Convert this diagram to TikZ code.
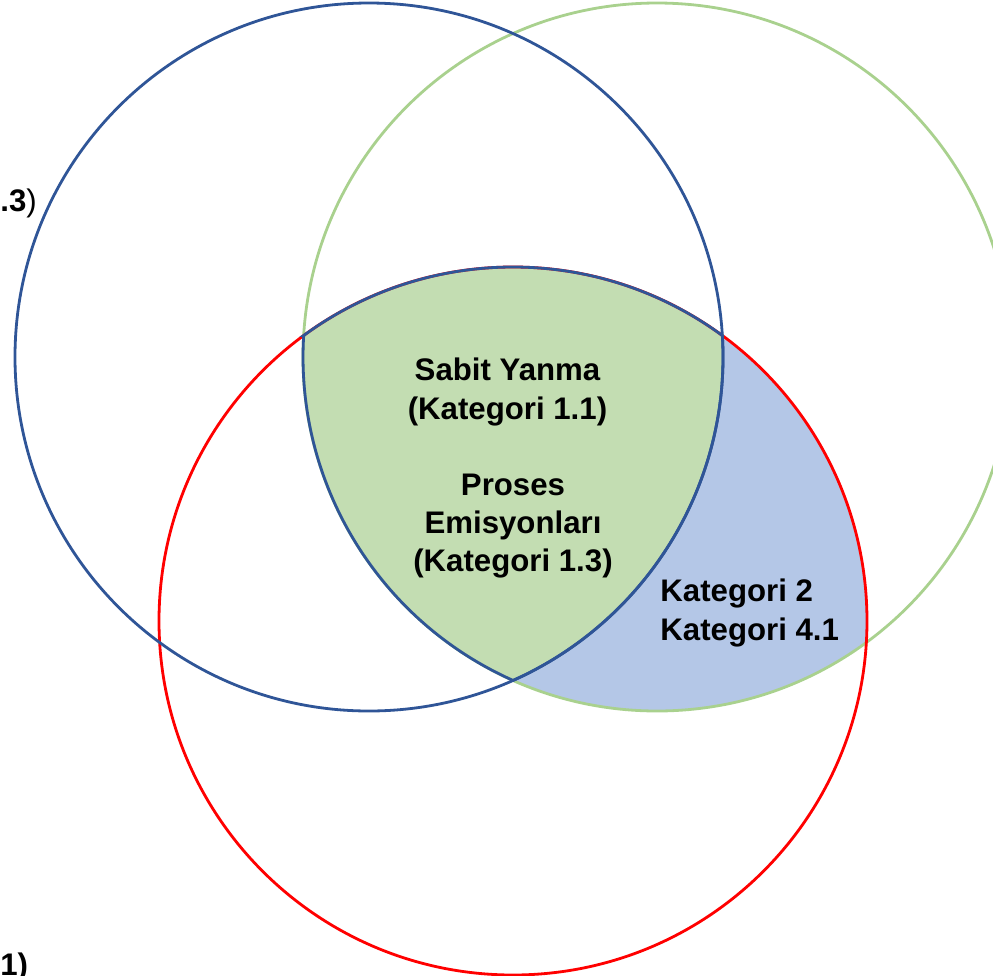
\documentclass[tikz,border=0pt]{standalone}
\usepackage{fontspec}
\setmainfont{Liberation Sans}
\usepackage{tikz}

\definecolor{ringblue}{RGB}{47,85,151}
\definecolor{ringgreen}{RGB}{169,209,142}
\definecolor{ringred}{RGB}{255,0,0}
\definecolor{fillgreen}{RGB}{195,221,178}
\definecolor{fillblue}{RGB}{180,199,231}

\begin{document}
\begin{tikzpicture}[x=0.5pt, y=0.5pt,
		ring/.style = {line width=1.4pt},
		lbl/.style = {font=\fontsize{15.6}{19.2}\selectfont\bfseries, inner sep=0pt, align=center}]
			\useasboundingbox (0,0) rectangle (993,-976);
			% blue-green-red overlap and green-red only part
			\begin{scope}
				\clip (657,-357) circle (354);
				\clip (513,-621) circle (354);
				\fill[fillblue] (0,0) rectangle (993,-976);
			\end{scope}
			\fill[fillgreen] (303.65,-335.54) arc[start angle=126.26, end angle=53.74, radius=354]
				arc[start angle=3.48, end angle=-66.0, radius=354]
				arc[start angle=246.0, end angle=176.52, radius=354] -- cycle;
			% the three circles
			\draw[ring, ringgreen] (657,-357) circle (354);
			\draw[ring, ringred] (513,-621) circle (354);
			\draw[ring, ringblue] (369,-357) circle (354);
			\draw[ring, ringblue] (303.65,-335.54) arc[start angle=126.26, end angle=53.74, radius=354]
				arc[start angle=3.48, end angle=-66.0, radius=354]
				arc[start angle=246.0, end angle=176.52, radius=354] -- cycle;
			% labels
			\node[lbl] (sabit) at (507.5,-392) {Sabit Yanma\\(Kategori 1.1)};
			\node[lbl] (proses) at (513,-526) {Proses\\Emisyonları\\(Kategori 1.3)};
			\node[lbl, align=left, anchor=west] (kat) at (660,-613) {Kategori 2\\Kategori 4.1};
			\node[lbl, anchor=west] (topleft) at (0,-203) {.3\textmd{)}};
			\node[lbl, anchor=west] (botleft) at (0,-967) {1)};
		\end{tikzpicture}
\end{document}
